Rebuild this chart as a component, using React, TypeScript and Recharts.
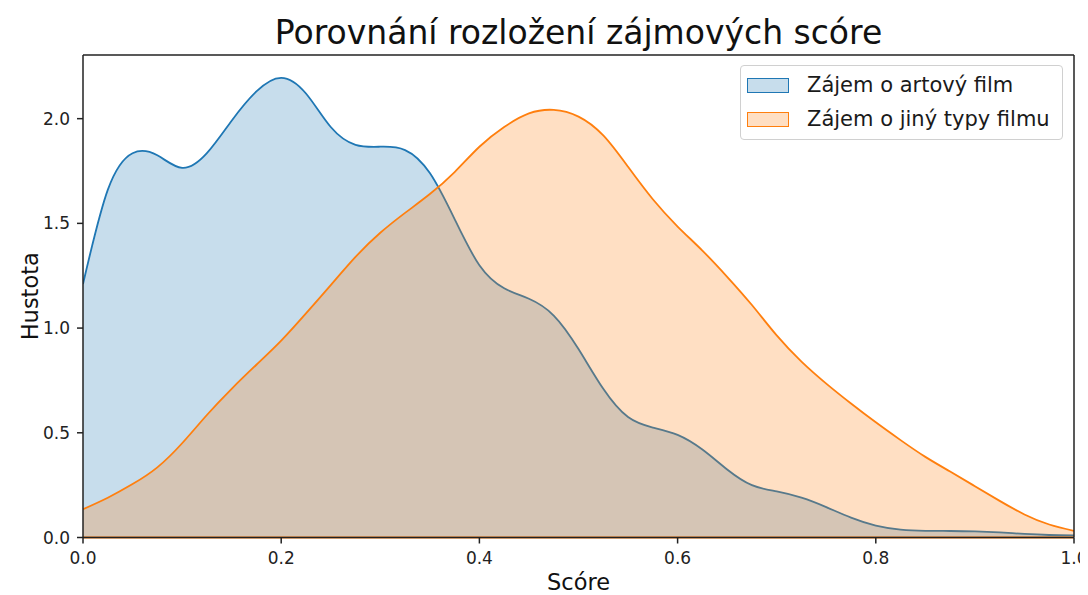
import React from "react";
import { ComposedChart, Area, XAxis, YAxis, ReferenceLine, Legend, Label } from "recharts";

const scores = [0, 0.025, 0.05, 0.075, 0.1, 0.125, 0.15, 0.175, 0.2, 0.225, 0.25, 0.275, 0.3, 0.325, 0.35, 0.375, 0.4, 0.425, 0.45, 0.475, 0.5, 0.525, 0.55, 0.575, 0.6, 0.625, 0.65, 0.675, 0.7, 0.725, 0.75, 0.775, 0.8, 0.825, 0.85, 0.875, 0.9, 0.925, 0.95, 0.975, 1.0];
const artDensity = [1.21, 1.66, 1.835, 1.825, 1.765, 1.835, 1.99, 2.13, 2.195, 2.12, 1.96, 1.875, 1.866, 1.85, 1.74, 1.52, 1.3, 1.19, 1.14, 1.06, 0.9, 0.71, 0.575, 0.525, 0.49, 0.42, 0.325, 0.25, 0.22, 0.19, 0.145, 0.095, 0.057, 0.038, 0.032, 0.031, 0.029, 0.024, 0.017, 0.012, 0.01];
const otherDensity = [0.135, 0.19, 0.255, 0.335, 0.45, 0.585, 0.71, 0.825, 0.94, 1.07, 1.205, 1.34, 1.455, 1.55, 1.64, 1.745, 1.866, 1.96, 2.025, 2.042, 2.01, 1.92, 1.77, 1.615, 1.485, 1.37, 1.245, 1.11, 0.965, 0.84, 0.735, 0.64, 0.55, 0.465, 0.385, 0.315, 0.245, 0.175, 0.11, 0.062, 0.032];
const xTicks = [0, 0.2, 0.4, 0.6, 0.8, 1.0];
const yTicks = [0, 0.5, 1.0, 1.5, 2.0];
const seriesNames = ["Zájem o artový film", "Zájem o jiný typy filmu"];
const title = "Porovnání rozložení zájmových scóre";
const xLabel = "Scóre";
const yLabel = "Hustota";

const BLUE = "#1f77b4";
const ORANGE = "#ff7f0e";
const FONT = "'DejaVu Sans', Verdana, sans-serif";

const data = scores.map((x, i) => ({ x, art: artDensity[i], other: otherDensity[i] }));

const LegendBox = () => (
  <div
    style={{
      width: 321,
      height: 73,
      border: "1px solid #d0d0d0",
      borderRadius: 4,
      background: "rgba(255,255,255,0.8)",
      fontFamily: FONT,
      fontSize: 21,
      color: "#1a1a1a",
      position: "relative",
    }}
  >
    {[BLUE, ORANGE].map((c, i) => (
      <div key={i} style={{ position: "absolute", left: 6, top: 10 + i * 34, height: 19, display: "flex", alignItems: "center" }}>
        <div style={{ width: 42, height: 15, border: `1.5px solid ${c}`, background: c === BLUE ? "rgba(31,119,180,0.25)" : "rgba(255,127,14,0.25)", boxSizing: "border-box" }} />
        <span style={{ marginLeft: 18, whiteSpace: "nowrap", lineHeight: "19px" }}>{seriesNames[i]}</span>
      </div>
    ))}
  </div>
);

export default function App() {
  return (
    <div style={{ position: "relative", width: 1080, height: 587 }}>
      <div
        style={{
          position: "absolute",
          left: 75,
          width: 991,
          top: 8,
          textAlign: "center",
          fontFamily: FONT,
          fontSize: 33,
          lineHeight: "33px",
          color: "#111",
          zIndex: 2,
        }}
      >
        {title}
      </div>
      <ComposedChart width={1080} height={587} data={data} margin={{ top: 47, right: 14, left: 0, bottom: 17.5 }}>
        <XAxis
          type="number"
          dataKey="x"
          domain={[0, 1]}
          ticks={xTicks}
          tickFormatter={(v: number) => v.toFixed(1)}
          allowDataOverflow
          height={40}
          tickSize={6}
          tickMargin={8}
          stroke="#222"
          strokeWidth={1.5}
          tick={{ fill: "#222", fontSize: 17, fontFamily: FONT }}
        >
          <Label
            content={({ viewBox }: any) => (
              <text x={viewBox.x + viewBox.width / 2} y={viewBox.y + 52} textAnchor="middle" fontFamily={FONT} fontSize={22.5} fill="#111">
                {xLabel}
              </text>
            )}
          />
        </XAxis>
        <YAxis
          type="number"
          domain={[0, 2.304]}
          ticks={yTicks}
          tickFormatter={(v: number) => v.toFixed(1)}
          allowDataOverflow
          width={75}
          tickSize={6}
          tickMargin={7}
          stroke="#222"
          strokeWidth={1.5}
          tick={{ fill: "#222", fontSize: 17, fontFamily: FONT }}
        >
          <Label
            content={({ viewBox }: any) => {
              const cx = 22;
              const cy = viewBox.y + viewBox.height / 2;
              return (
                <text x={cx} y={cy} textAnchor="middle" dominantBaseline="central" transform={`rotate(-90 ${cx} ${cy})`} fontFamily={FONT} fontSize={22.5} fill="#111">
                  {yLabel}
                </text>
              );
            }}
          />
        </YAxis>
        <Area type="natural" dataKey="art" name={seriesNames[0]} stroke={BLUE} strokeWidth={1.8} fill={BLUE} fillOpacity={0.25} isAnimationActive={false} dot={false} activeDot={false} />
        <Area type="natural" dataKey="other" name={seriesNames[1]} stroke={ORANGE} strokeWidth={1.8} fill={ORANGE} fillOpacity={0.25} isAnimationActive={false} dot={false} activeDot={false} />
        <ReferenceLine y={0} stroke={ORANGE} strokeWidth={2} ifOverflow="extendDomain" />
        <ReferenceLine y={2.304} stroke="#222" strokeWidth={1.5} />
        <ReferenceLine x={1} stroke="#222" strokeWidth={1.5} />
        <Legend
          layout="vertical"
          align="center"
          verticalAlign="middle"
          content={() => <LegendBox />}
          wrapperStyle={{ left: 732, top: 57, width: 323, height: 75 }}
        />
      </ComposedChart>
    </div>
  );
}
